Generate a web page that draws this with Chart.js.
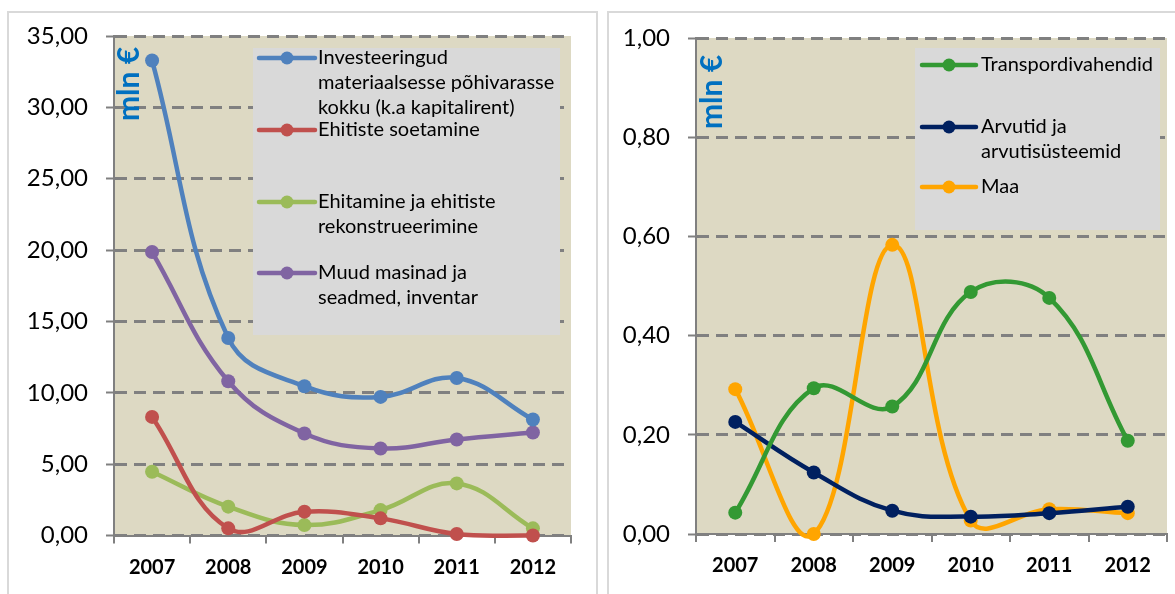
<!DOCTYPE html>
<html><head><meta charset="utf-8">
<script src="https://cdn.jsdelivr.net/npm/chart.js@4"></script>
<style>
html,body{margin:0;padding:0;background:#fff;width:1175px;height:594px;overflow:hidden;position:relative;}
.panel{position:absolute;border:2px solid #d9d9d9;box-sizing:border-box;background:#fff;}
canvas{position:absolute;left:0;top:0;}
</style></head><body>
<div class="panel" style="left:7px;top:11px;width:591px;height:620px"></div>
<div class="panel" style="left:607px;top:11px;width:600px;height:620px"></div>
<canvas id="c1" width="1175" height="594"></canvas>
<canvas id="c2" width="1175" height="594"></canvas>
<script>
// ---- data ----
const years = ['2007', '2008', '2009', '2010', '2011', '2012'];
const leftTickLabels = ['0,00', '5,00', '10,00', '15,00', '20,00', '25,00', '30,00', '35,00'];
const rightTickLabels = ['0,00', '0,20', '0,40', '0,60', '0,80', '1,00'];
const unitLabel = 'mln €';

const investTotal = [33.28, 13.84, 10.46, 9.71, 11.04, 8.13];
const buildingsAcq = [8.31, 0.50, 1.67, 1.20, 0.10, 0.0];
const construction = [4.47, 2.02, 0.73, 1.78, 3.65, 0.50];
const machinery = [19.86, 10.81, 7.15, 6.10, 6.73, 7.22];

const transport = [0.043, 0.294, 0.257, 0.488, 0.476, 0.188];
const computers = [0.226, 0.124, 0.047, 0.035, 0.042, 0.055];
const land = [0.292, 0.0, 0.583, 0.027, 0.050, 0.042];

const leftNames = ['Investeeringud\nmateriaalsesse põhivarasse\nkokku (k.a kapitalirent)', 'Ehitiste soetamine', 'Ehitamine ja ehitiste\nrekonstrueerimine', 'Muud masinad ja\nseadmed, inventar'];
const rightNames = ['Transpordivahendid', 'Arvutid ja\narvutisüsteemid', 'Maa'];

// ---- styling ----
const FONT = 'Lato, "Open Sans", sans-serif';
const GRID = '#808080';

const plotBg = {
  id: 'plotBg',
  beforeDraw(chart) {
    const a = chart.chartArea, ctx = chart.ctx;
    ctx.save(); ctx.fillStyle = '#ddd9c3';
    ctx.fillRect(a.left, a.top, a.right - a.left, a.bottom - a.top);
    ctx.restore();
  }
};

const legendBox = {
  id: 'legendBox',
  afterDatasetsDraw(chart, args, o) {
    const a = chart.chartArea, ctx = chart.ctx;
    ctx.save();
    ctx.fillStyle = '#d9d9d9';
    ctx.fillRect(a.left + o.x, a.top + o.y, o.w, o.h);
    ctx.font = o.fontSize + 'px ' + FONT;
    ctx.textBaseline = 'middle';
    ctx.textAlign = 'left';
    chart.data.datasets.forEach((ds, i) => {
      const y = a.top + o.entryY[i];
      const col = ds.borderColor;
      ctx.strokeStyle = col; ctx.lineWidth = 4.5; ctx.lineCap = 'round';
      ctx.beginPath();
      ctx.moveTo(a.left + o.symX0, y); ctx.lineTo(a.left + o.symX1, y); ctx.stroke();
      ctx.fillStyle = col;
      ctx.beginPath(); ctx.arc(a.left + (o.symX0 + o.symX1) / 2, y, 6.5, 0, Math.PI * 2); ctx.fill();
      ctx.fillStyle = '#000';
      ds.label.split('\n').forEach((ln, k) => {
        ctx.fillText(ln, a.left + o.textX, y + k * o.lineH);
      });
    });
    ctx.restore();
  }
};

const unitText = {
  id: 'unitText',
  afterDraw(chart, args, o) {
    const a = chart.chartArea, ctx = chart.ctx;
    ctx.save();
    ctx.translate(a.left + o.x, a.top + o.y);
    ctx.rotate(-Math.PI / 2);
    ctx.font = 'bold ' + o.size + 'px ' + FONT;
    ctx.fillStyle = '#0070c0';
    ctx.textAlign = 'center'; ctx.textBaseline = 'middle';
    ctx.fillText(unitLabel, 0, 0);
    ctx.restore();
  }
};

function ds(label, data, color) {
  return {
    label, data, borderColor: color, backgroundColor: color,
    pointBackgroundColor: color, pointBorderColor: color,
    borderWidth: 4.5, pointRadius: 7, pointBorderWidth: 0,
    tension: 0.4, clip: false, fill: false
  };
}

function makeChart(id, datasets, yMax, yStep, tickLabels, pad, xH, yW, legendOpts, unitOpts) {
  return new Chart(document.getElementById(id), {
    type: 'line',
    data: { labels: years, datasets },
    plugins: [plotBg, legendBox, unitText],
    options: {
      responsive: false, animation: false, devicePixelRatio: 1,
      layout: { padding: pad },
      elements: { line: { capBezierPoints: false } },
      plugins: {
        legend: { display: false }, tooltip: { enabled: false },
        legendBox: legendOpts, unitText: unitOpts
      },
      scales: {
        x: {
          offset: true,
          grid: { display: true, drawOnChartArea: false, drawTicks: true, tickLength: 8, offset: true, color: GRID, lineWidth: 2 },
          border: { display: true, color: GRID, width: 2 },
          ticks: { color: '#000', font: { family: FONT, size: 20, weight: 'bold' }, padding: 12, maxRotation: 0 },
          afterFit(s) { s.height = xH; }
        },
        y: {
          min: 0, max: yMax,
          grid: { color: GRID, lineWidth: 3, tickLength: 8, tickColor: GRID, tickWidth: 2 },
          border: { display: true, color: GRID, width: 2, dash: [12, 7] },
          ticks: {
            stepSize: yStep, color: '#000', padding: 18,
            font: { family: FONT, size: 24 },
            callback: (v, i) => tickLabels[i]
          },
          afterFit(s) { s.width = yW; }
        }
      }
    }
  });
}

makeChart('c1', [
  ds(leftNames[0], investTotal, '#4f81bd'),
  ds(leftNames[1], buildingsAcq, '#c0504d'),
  ds(leftNames[2], construction, '#9bbb59'),
  ds(leftNames[3], machinery, '#8064a2')
], 35, 5, leftTickLabels,
  { left: 0, top: 36, right: 1175 - 571, bottom: 0 }, 594 - 535.5, 114,
  { x: 139, y: 12, w: 307, h: 287, entryY: [22, 94, 166, 237], symX0: 145, symX1: 201, textX: 204, lineH: 25, fontSize: 20 },
  { x: 15, y: 48, size: 30 });

makeChart('c2', [
  ds(rightNames[0], transport, '#339933'),
  ds(rightNames[1], computers, '#002060'),
  ds(rightNames[2], land, '#ffa500')
], 1, 0.2, rightTickLabels,
  { left: 616, top: 38, right: 8, bottom: 0 }, 594 - 534, 80,
  { x: 219, y: 10, w: 245, h: 182, entryY: [27, 89, 149], symX0: 226, symX1: 280, textX: 285, lineH: 25, fontSize: 20 },
  { x: 16, y: 54, size: 30 });
</script>
</body></html>
